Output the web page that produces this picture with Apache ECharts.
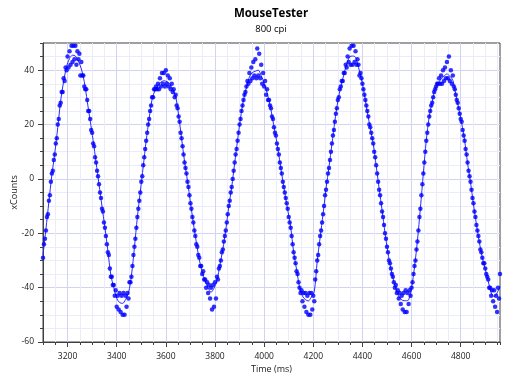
<!DOCTYPE html>
<html><head><meta charset="utf-8">
<script src="https://cdn.jsdelivr.net/npm/echarts@6/dist/echarts.min.js"></script>
<style>html,body{margin:0;padding:0;background:#fff}#c{width:512px;height:384px}</style>
</head><body><div id="c"></div>
<script>
const titleText = 'MouseTester';
const subtitleText = '800 cpi';
const xName = 'Time (ms)';
const yName = 'xCounts';
const xMajorTicks = [3200,3400,3600,3800,4000,4200,4400,4600,4800];

const times = [
3100,3104,3108,3112,3116,3120,3124,3128,3132,3136,3140,3144,3148,3152,3156,
3160,3164,3168,3172,3176,3180,3184,3188,3192,3196,3200,3204,3208,3212,3216,
3220,3224,3228,3232,3236,3240,3244,3248,3252,3256,3260,3264,3268,3272,3276,
3280,3284,3288,3292,3296,3300,3304,3308,3312,3316,3320,3324,3328,3332,3336,
3340,3344,3348,3352,3356,3360,3364,3368,3372,3376,3380,3384,3388,3392,3396,
3400,3404,3408,3412,3416,3420,3424,3428,3432,3436,3440,3444,3448,3452,3456,
3460,3464,3468,3472,3476,3480,3484,3488,3492,3496,3500,3504,3508,3512,3516,
3520,3524,3528,3532,3536,3540,3544,3548,3552,3556,3560,3564,3568,3572,3576,
3580,3584,3588,3592,3596,3600,3604,3608,3612,3616,3620,3624,3628,3632,3636,
3640,3644,3648,3652,3656,3660,3664,3668,3672,3676,3680,3684,3688,3692,3696,
3700,3704,3708,3712,3716,3720,3724,3728,3732,3736,3740,3744,3748,3752,3756,
3760,3764,3768,3772,3776,3780,3784,3788,3792,3796,3800,3804,3808,3812,3816,
3820,3824,3828,3832,3836,3840,3844,3848,3852,3856,3860,3864,3868,3872,3876,
3880,3884,3888,3892,3896,3900,3904,3908,3912,3916,3920,3924,3928,3932,3936,
3940,3944,3948,3952,3956,3960,3964,3968,3972,3976,3980,3984,3988,3992,3996,
4000,4004,4008,4012,4016,4020,4024,4028,4032,4036,4040,4044,4048,4052,4056,
4060,4064,4068,4072,4076,4080,4084,4088,4092,4096,4100,4104,4108,4112,4116,
4120,4124,4128,4132,4136,4140,4144,4148,4152,4156,4160,4164,4168,4172,4176,
4180,4184,4188,4192,4196,4200,4204,4208,4212,4216,4220,4224,4228,4232,4236,
4240,4244,4248,4252,4256,4260,4264,4268,4272,4276,4280,4284,4288,4292,4296,
4300,4304,4308,4312,4316,4320,4324,4328,4332,4336,4340,4344,4348,4352,4356,
4360,4364,4368,4372,4376,4380,4384,4388,4392,4396,4400,4404,4408,4412,4416,
4420,4424,4428,4432,4436,4440,4444,4448,4452,4456,4460,4464,4468,4472,4476,
4480,4484,4488,4492,4496,4500,4504,4508,4512,4516,4520,4524,4528,4532,4536,
4540,4544,4548,4552,4556,4560,4564,4568,4572,4576,4580,4584,4588,4592,4596,
4600,4604,4608,4612,4616,4620,4624,4628,4632,4636,4640,4644,4648,4652,4656,
4660,4664,4668,4672,4676,4680,4684,4688,4692,4696,4700,4704,4708,4712,4716,
4720,4724,4728,4732,4736,4740,4744,4748,4752,4756,4760,4764,4768,4772,4776,
4780,4784,4788,4792,4796,4800,4804,4808,4812,4816,4820,4824,4828,4832,4836,
4840,4844,4848,4852,4856,4860,4864,4868,4872,4876,4880,4884,4888,4892,4896,
4900,4904,4908,4912,4916,4920,4924,4928,4932,4936,4940,4944,4948,4952,4956,
4960];

const counts = [
-29,-24,-22,-19,-14,-13,-8,-6,-1,2,3,7,9,13,15,
20,22,27,28,32,32,37,36,41,40,45,41,47,42,49,
43,49,44,49,42,47,44,46,38,43,38,38,34,33,33,
29,25,25,22,18,17,13,12,8,6,3,1,-2,-5,-7,
-11,-12,-16,-18,-21,-24,-27,-28,-33,-36,-36,-39,-39,-43,-41,
-47,-43,-48,-42,-49,-43,-50,-42,-50,-43,-47,-42,-44,-38,-38,
-36,-32,-28,-25,-22,-18,-14,-11,-8,-5,-1,1,5,8,11,
14,17,20,22,25,27,30,30,33,33,34,33,35,33,37,
34,39,35,39,34,40,35,38,34,37,33,35,32,33,30,
31,27,26,23,21,17,15,12,9,6,4,2,-1,-3,-6,
-9,-11,-14,-16,-19,-21,-24,-25,-28,-29,-32,-32,-35,-34,-37,
-37,-40,-38,-42,-39,-44,-40,-48,-39,-47,-38,-44,-36,-37,-33,
-32,-30,-27,-26,-23,-21,-19,-16,-13,-10,-8,-5,-3,0,3,
6,9,11,14,17,20,22,25,27,29,31,32,34,36,35,
39,36,41,37,43,38,44,37,48,38,46,37,42,35,39,
34,36,31,33,29,29,27,26,23,22,19,17,16,13,11,
9,6,4,2,-1,-3,-5,-7,-9,-11,-14,-16,-18,-21,-24,
-27,-29,-31,-34,-35,-38,-40,-42,-41,-45,-42,-47,-42,-49,-43,
-50,-42,-50,-42,-48,-43,-45,-37,-34,-30,-28,-24,-21,-19,-16,
-13,-10,-6,-4,-1,2,4,7,10,13,16,18,21,24,26,
29,30,33,34,36,36,39,39,42,41,45,43,48,42,49,
42,49,43,47,42,44,42,38,39,37,35,33,31,29,27,
25,23,20,19,17,15,13,10,8,5,2,-1,-4,-6,-9,
-12,-14,-17,-20,-22,-25,-27,-30,-31,-33,-35,-36,-38,-40,-39,
-42,-41,-44,-42,-46,-43,-48,-42,-49,-41,-49,-42,-46,-41,-43,
-40,-38,-35,-32,-30,-26,-23,-19,-14,-11,-6,-2,2,6,10,
14,17,20,23,25,27,28,30,32,33,34,35,35,37,35,
38,35,40,36,41,37,43,37,45,36,40,35,38,34,33,
31,29,28,26,24,22,21,18,16,14,11,9,6,3,1,
-1,-4,-7,-9,-12,-14,-17,-19,-21,-23,-26,-27,-29,-31,-31,
-33,-35,-36,-37,-40,-40,-43,-41,-45,-41,-47,-43,-49,-40,-44,
-35];

// smoothed curve, one value per every third sample time
const smoothCounts = [
-28,-18.4,-8.4,1.4,9.5,18.9,28.8,35.9,41.3,44.3,
45.5,45.2,43.3,40.5,35.8,28.6,21.4,14.2,6.1,-2,
-10,-17.9,-26.4,-35.3,-40,-43.9,-45.5,-45.8,-44.4,-41.9,
-35.5,-25.3,-14.1,-4.7,4.6,14.1,22.2,29.3,32.6,34.3,
35.6,36.1,35.8,35,32.9,30.3,23.4,14.9,6.5,-0.8,
-8.6,-16.3,-23.3,-29.7,-34.2,-37.6,-40.1,-41.7,-40.2,-37.3,
-31.7,-25.8,-18.7,-10.3,-3,5.7,14.3,22.4,29,33.7,
37.5,39.1,39.6,40,38,35.2,31.7,27.2,21.3,15.4,
8.7,1.6,-5.1,-11.4,-17.7,-26.8,-33.3,-39.7,-43.1,-44.4,
-44.9,-43.5,-41.5,-30.3,-21.5,-12.8,-3.5,4.4,12.8,21.3,
28.6,33.9,38.2,42.3,44.9,45.2,44.8,41.1,36.8,31.1,
24.6,18.6,12.9,4.9,-3.5,-11.5,-19.8,-27.2,-33.1,-37.8,
-41.6,-43.8,-44.7,-44.8,-44.5,-40.1,-32.4,-22.7,-10.7,2,
14.2,23,28.4,33.1,35.2,36.7,37.8,38.6,37.8,36.3,
31.1,25.9,20.5,14.2,5.8,-1.3,-9.3,-16.7,-23.3,-28.9,
-33.2,-37.6,-41.9,-43.3,-42,-39.5];

const points = times.map((t, i) => [t, counts[i]]);
const linePts = smoothCounts.map((v, k) => [times[3 * k], v]);

const FONT = 'Open Sans';
const minorGrid = '#ebebfa';
const majorGrid = '#d2d2f3';
const frame = '#404040';
const txt = '#1a1a1a';

const chart = echarts.init(document.getElementById('c'), null, {renderer: 'canvas'});
chart.setOption({
  animation: false,
  backgroundColor: '#ffffff',
  graphic: [
    {type: 'text', x: 271, y: 14, z: 10,
     style: {text: titleText, font: 'bold 11.5px "Open Sans"', fill: '#000', textAlign: 'center', textVerticalAlign: 'middle'}},
    {type: 'text', x: 271, y: 29, z: 10,
     style: {text: subtitleText, font: '9.5px "Open Sans"', fill: '#000', textAlign: 'center', textVerticalAlign: 'middle'}}
  ],
  grid: {left: 43, right: 12, top: 43, bottom: 42, containLabel: false, outerBoundsMode: 'none',
         show: true, borderColor: frame, borderWidth: 1, backgroundColor: 'rgba(0,0,0,0)'},
  xAxis: [
    {type: 'value', min: 3100, max: 4960, interval: 50,
     axisLine: {show: true, onZero: false, lineStyle: {color: frame}},
     axisTick: {show: true, length: 3, lineStyle: {color: frame}},
     axisLabel: {show: false},
     splitLine: {show: true, showMinLine: false, showMaxLine: false,
       lineStyle: {color: [minorGrid, majorGrid, minorGrid, minorGrid], width: 1}}},
    {type: 'value', min: 3100, max: 4960, position: 'bottom',
     axisLine: {show: false, onZero: false},
     axisTick: {show: true, length: 5, customValues: xMajorTicks, lineStyle: {color: frame}},
     axisLabel: {show: true, customValues: xMajorTicks, margin: 10, color: txt, fontFamily: FONT, fontSize: 8.5,
       formatter: v => String(v)},
     splitLine: {show: false},
     name: xName, nameLocation: 'middle', nameGap: 23, nameMoveOverlap: false,
     nameTextStyle: {color: txt, fontFamily: FONT, fontSize: 9}}
  ],
  yAxis: [
    {type: 'value', min: -60, max: 50, interval: 5,
     axisLine: {show: true, onZero: false, lineStyle: {color: frame}},
     axisTick: {show: true, length: 3, lineStyle: {color: frame}},
     axisLabel: {show: false},
     splitLine: {show: true, showMinLine: false, showMaxLine: false,
       lineStyle: {color: [minorGrid, minorGrid, minorGrid, majorGrid], width: 1}}},
    {type: 'value', min: -60, max: 50, interval: 20, position: 'left',
     axisLine: {show: false, onZero: false},
     axisTick: {show: true, length: 5, lineStyle: {color: frame}},
     axisLabel: {show: true, showMaxLabel: false, margin: 9, color: txt, fontFamily: FONT, fontSize: 8.5,
       formatter: v => (v % 20 === 0 ? String(v) : '')},
     splitLine: {show: false},
     name: yName, nameLocation: 'middle', nameGap: 24, nameMoveOverlap: false,
     nameTextStyle: {color: txt, fontFamily: FONT, fontSize: 9}}
  ],
  series: [
    {type: 'line', xAxisIndex: 0, yAxisIndex: 0, data: linePts, showSymbol: false, smooth: 0.3,
     lineStyle: {color: '#2a2aff', width: 1}, z: 2, silent: true},
    {type: 'scatter', xAxisIndex: 0, yAxisIndex: 0, data: points, symbol: 'circle', symbolSize: 4.5,
     itemStyle: {color: '#0000ff'}, z: 3, silent: true}
  ]
});
</script>
</body></html>
